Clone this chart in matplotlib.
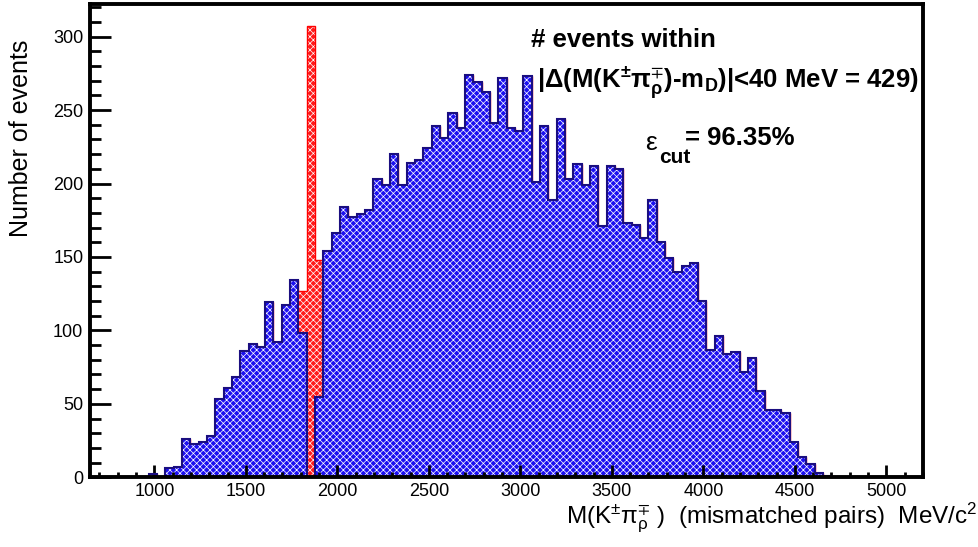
import numpy as np
import matplotlib
matplotlib.use("Agg")
import matplotlib.pyplot as plt
from matplotlib.ticker import MultipleLocator

# ---------------- data ----------------
x_min, x_max, n_bins = 650, 5200, 100

# counts after the |Delta m| < 40 MeV cut (blue)
blue_counts = [
    0, 0, 0, 0, 0, 0, 0, 2, 0, 6,
    7, 26, 23, 24, 28, 53, 61, 68, 86, 91,
    89, 119, 92, 117, 134, 98, 0, 55, 154, 166,
    184, 177, 179, 182, 203, 199, 220, 199, 214, 216,
    224, 239, 231, 248, 238, 274, 269, 262, 241, 272,
    238, 236, 273, 201, 239, 189, 244, 203, 213, 199,
    212, 171, 212, 210, 173, 172, 163, 189, 160, 149,
    140, 144, 146, 120, 87, 96, 84, 85, 72, 81,
    59, 46, 46, 44, 24, 14, 9, 3, 1, 0,
    0, 0, 0, 0, 0, 0, 0, 0, 0, 0,
]
# all mismatched pairs (red): differs only in the bins around m_D
red_extra = {25: 127, 26: 307, 27: 148}
red_counts = [red_extra.get(i, v) for i, v in enumerate(blue_counts)]

y_top = 322
x_major, x_minor = 500, 100
y_major, y_minor = 50, 10

title_line1 = "# events within"
title_line2 = r"|Δ(M(K$^{±}$π$^{∓}_{ρ}$)-m$_{D}$)|<40 MeV = 429)"
eps_value = "= 96.35%"
x_title = r"M(K$^{±}$π$^{∓}_{ρ}$ )  (mismatched pairs)  MeV/c$^{2}$"
y_title = "Number of events"

# ---------------- style ----------------
plt.rcParams["font.family"] = ["Liberation Sans", "DejaVu Sans"]
plt.rcParams["mathtext.fontset"] = "custom"
plt.rcParams["mathtext.rm"] = "Liberation Sans"
plt.rcParams["mathtext.it"] = "Liberation Sans:italic"
plt.rcParams["mathtext.bf"] = "Liberation Sans:bold"
plt.rcParams["mathtext.default"] = "regular"
plt.rcParams["hatch.linewidth"] = 0.5

W, H = 979, 547
fig = plt.figure(figsize=(W / 100, H / 100), dpi=100)
ax_l, ax_r, ax_b, ax_t = 90.3, 923.0, 477.3, 4.3
ax = fig.add_axes([ax_l / W, 1 - ax_b / H, (ax_r - ax_l) / W, (ax_b - ax_t) / H])

edges = np.linspace(x_min, x_max, n_bins + 1)
widths = np.diff(edges)

# red histogram (behind)
ax.bar(edges[:-1], red_counts, width=widths, align="edge",
       facecolor="#ff1a1a", edgecolor="white", hatch="xxxxx", linewidth=0, zorder=1)
ax.stairs(red_counts, edges, color="#ff0000", linewidth=1.0, zorder=1.2)

# blue histogram (front)
ax.bar(edges[:-1], blue_counts, width=widths, align="edge",
       facecolor="#1c10f0", edgecolor="white", hatch="xxxxx", linewidth=0, zorder=1.5)
ax.stairs(blue_counts, edges, color="#1a0e80", linewidth=1.5, zorder=1.7)

ax.set_xlim(x_min, x_max)
ax.set_ylim(0, y_top)

ax.xaxis.set_major_locator(MultipleLocator(x_major))
ax.xaxis.set_minor_locator(MultipleLocator(x_minor))
ax.yaxis.set_major_locator(MultipleLocator(y_major))
ax.yaxis.set_minor_locator(MultipleLocator(y_minor))

ax.tick_params(axis="x", which="major", direction="in", length=8.5, width=2.0,
               labelsize=13, pad=4, top=False)
ax.tick_params(axis="x", which="minor", direction="in", length=3.5, width=2.0, top=False)
ax.tick_params(axis="y", which="major", direction="in", length=15, width=2.0,
               labelsize=13, pad=5, right=False)
ax.tick_params(axis="y", which="minor", direction="in", length=8, width=2.0, right=False)

for s in ax.spines.values():
    s.set_linewidth(2.8)
    s.set_zorder(3)

# ---------------- texts ----------------
def fx(px):
    return px / W

def fy(py):
    return 1 - py / H

fig.text(fx(531), fy(46.7), title_line1, fontsize=18.5, fontweight="bold",
         ha="left", va="baseline")
fig.text(fx(537), fy(88.3), title_line2, fontsize=18.5, fontweight="bold",
         ha="left", va="baseline")
fig.text(fx(645), fy(150), "ε", fontsize=19, ha="left", va="baseline")
fig.text(fx(659), fy(163), "cut", fontsize=15, fontweight="bold", ha="left", va="baseline")
fig.text(fx(685), fy(145), eps_value, fontsize=18.5, fontweight="bold",
         ha="left", va="baseline")

fig.text(fx(977), fy(523), x_title, fontsize=17.5, ha="right", va="baseline")
fig.text(fx(9), fy(138), y_title, fontsize=18, rotation=90, ha="left", va="center")

fig.savefig("out.png", dpi=100)
